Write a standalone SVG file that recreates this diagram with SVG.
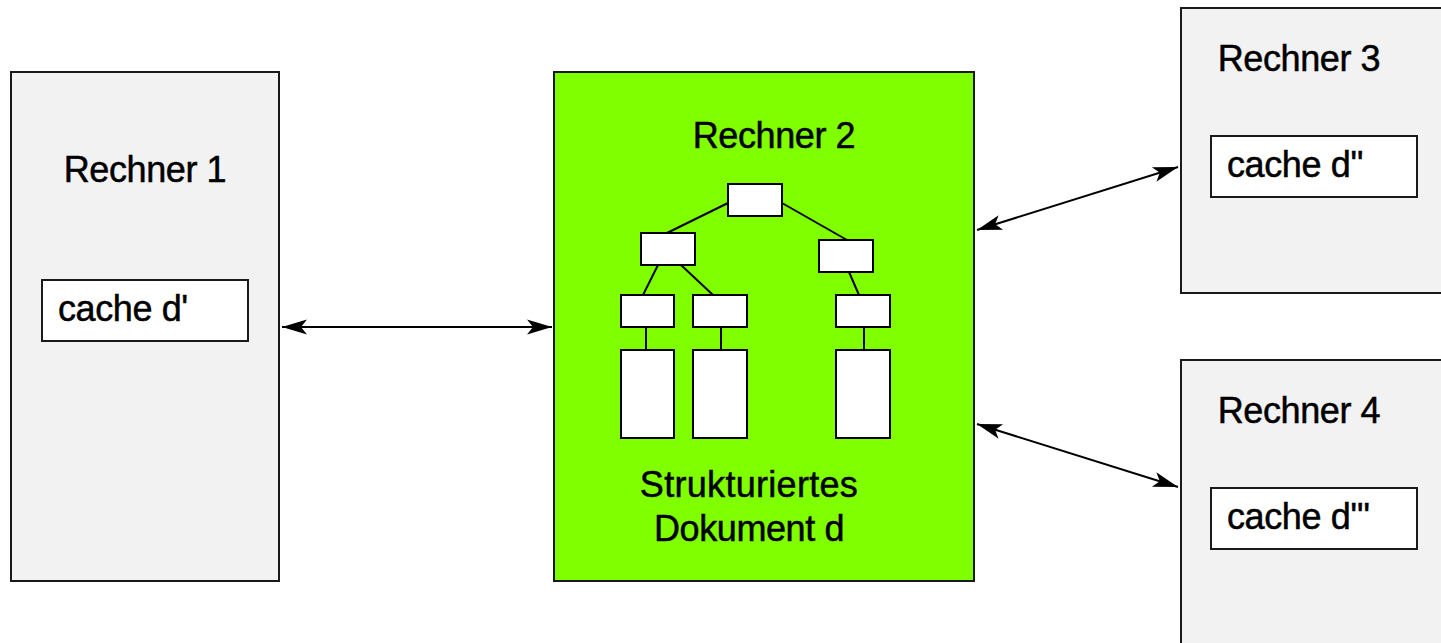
<svg xmlns="http://www.w3.org/2000/svg" width="1441" height="643" viewBox="0 0 1441 643">
  <style>
    .host { fill: #f2f2f2; stroke: #1a1a1a; stroke-width: 2; }
    .server { fill: #80ff00; stroke: #1a1a1a; stroke-width: 2; }
    .cache { fill: #ffffff; stroke: #1a1a1a; stroke-width: 2; }
    .tnode { fill: #ffffff; stroke: #000000; stroke-width: 2; }
    .tedge { stroke: #000000; stroke-width: 2; fill: none; }
    .label { font-family: "Liberation Sans", Arial, Helvetica, sans-serif; font-size: 36px; letter-spacing: -0.4px; fill: #000000; stroke: #000000; stroke-width: 0.5; }
    .mid { text-anchor: middle; }
    .link { stroke: #000000; stroke-width: 2; fill: none; marker-start: url(#barb); marker-end: url(#barb); }
  </style>
  <defs>
    <marker id="barb" viewBox="-1 -9 27 18" refX="25" refY="0" markerWidth="27" markerHeight="18" markerUnits="userSpaceOnUse" orient="auto-start-reverse">
      <path d="M0,-7.5 L25,0 L0,7.5 L6,0 Z" fill="#000000"/>
    </marker>
  </defs>

  <!-- Rechner 1 -->
  <g id="rechner1">
    <rect class="host" x="11" y="72" width="268" height="509"/>
    <text class="label mid" x="145" y="182">Rechner 1</text>
    <rect class="cache" x="42" y="280" width="206" height="61"/>
    <text class="label" x="58" y="321">cache d'</text>
  </g>

  <!-- Rechner 2 with the structured document tree -->
  <g id="rechner2">
    <rect class="server" x="554" y="72" width="420" height="509"/>
    <text class="label mid" x="774" y="148">Rechner 2</text>
    <g id="dokument-baum">
      <line class="tedge" x1="728" y1="203" x2="667" y2="233"/>
      <line class="tedge" x1="782" y1="203" x2="847" y2="240"/>
      <line class="tedge" x1="658" y1="265" x2="643" y2="295"/>
      <line class="tedge" x1="681" y1="265" x2="713" y2="295"/>
      <line class="tedge" x1="849" y1="272" x2="859" y2="295"/>
      <line class="tedge" x1="646" y1="327" x2="646" y2="350"/>
      <line class="tedge" x1="721" y1="327" x2="721" y2="350"/>
      <line class="tedge" x1="864" y1="327" x2="864" y2="350"/>
      <rect class="tnode" x="728" y="184" width="54" height="32"/>
      <rect class="tnode" x="641" y="233" width="54" height="32"/>
      <rect class="tnode" x="819" y="240" width="54" height="32"/>
      <rect class="tnode" x="621" y="295" width="53" height="32"/>
      <rect class="tnode" x="693" y="295" width="54" height="32"/>
      <rect class="tnode" x="836" y="295" width="54" height="32"/>
      <rect class="tnode" x="621" y="350" width="53" height="88"/>
      <rect class="tnode" x="693" y="350" width="54" height="88"/>
      <rect class="tnode" x="836" y="350" width="54" height="88"/>
    </g>
    <text class="label mid" x="749" y="497" style="letter-spacing:0.3px">Strukturiertes</text>
    <text class="label mid" x="749" y="541">Dokument d</text>
  </g>

  <!-- Rechner 3 -->
  <g id="rechner3">
    <rect class="host" x="1181" y="8" width="270" height="285"/>
    <text class="label mid" x="1299" y="71">Rechner 3</text>
    <rect class="cache" x="1211" y="136" width="206" height="61"/>
    <text class="label" x="1227" y="177">cache d''</text>
  </g>

  <!-- Rechner 4 -->
  <g id="rechner4">
    <rect class="host" x="1181" y="360" width="270" height="300"/>
    <text class="label mid" x="1299" y="423">Rechner 4</text>
    <rect class="cache" x="1211" y="488" width="206" height="61"/>
    <text class="label" x="1227" y="529">cache d'''</text>
  </g>

  <!-- connections between the hosts -->
  <g id="verbindungen">
    <line class="link" x1="282" y1="327" x2="552" y2="327"/>
    <line class="link" x1="977" y1="230" x2="1178" y2="167"/>
    <line class="link" x1="977" y1="424" x2="1178" y2="487"/>
  </g>
</svg>
